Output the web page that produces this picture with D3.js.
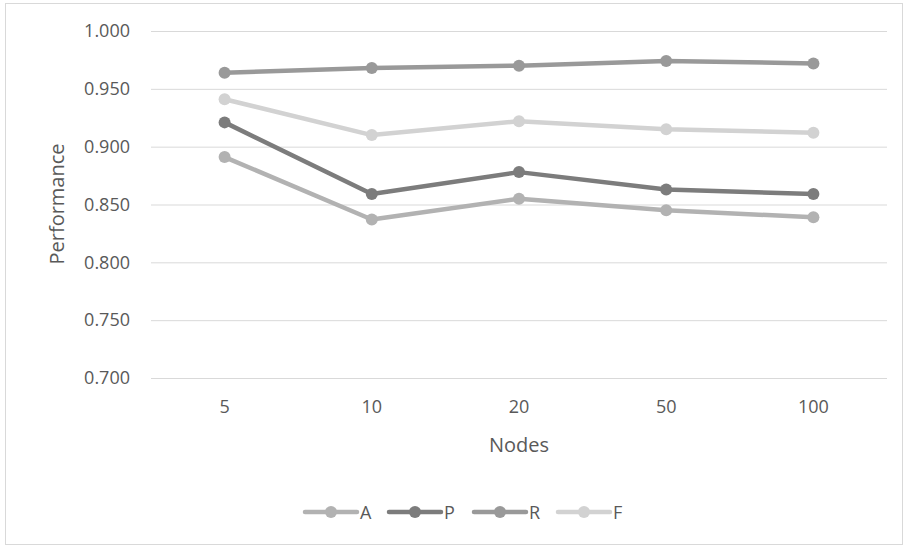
<!DOCTYPE html>
<html><head><meta charset="utf-8">
<script src="https://cdn.jsdelivr.net/npm/d3@7"></script>
<style>body{margin:0;background:#fff}svg{display:block}text{font-family:"Open Sans","Segoe UI",Calibri,sans-serif}</style>
</head><body><svg id="c" width="904" height="546"></svg>
<script>
const categories = ["5","10","20","50","100"];
const seriesNames = ["A","P","R","F"];
const A = [0.891,0.837,0.855,0.845,0.839];
const P = [0.921,0.859,0.878,0.863,0.859];
const R = [0.964,0.968,0.970,0.974,0.972];
const F = [0.941,0.910,0.922,0.915,0.912];
const yTicks = [0.700,0.750,0.800,0.850,0.900,0.950,1.000];
const colors = {A:"#b2b2b2",P:"#7c7c7c",R:"#999999",F:"#d2d2d2"};
const seriesData = {A,P,R,F};

const svg = d3.select("#c");
svg.append("rect").attr("x",5.5).attr("y",3.5).attr("width",897).attr("height",541)
  .attr("fill","#fff").attr("stroke","#d9d9d9");

const x = d3.scaleBand().domain(categories).range([151,887]);
const y = d3.scaleLinear().domain([0.7,1.0]).range([378,31]);

const yAxis = svg.append("g").attr("transform","translate(151,0)")
  .call(d3.axisLeft(y).tickValues(yTicks).tickFormat(d3.format(".3f")).tickSize(-736).tickPadding(21));
yAxis.select(".domain").remove();
yAxis.selectAll("line").attr("stroke","#d9d9d9").attr("stroke-width",1);
yAxis.selectAll("text").attr("fill","#595959").style("font-size","18px");

const xAxis = svg.append("g").attr("transform","translate(0,378)")
  .call(d3.axisBottom(x).tickSize(0).tickPadding(22));
xAxis.select(".domain").remove();
xAxis.selectAll("text").attr("fill","#595959").style("font-size","18px");

svg.append("text").attr("x",519).attr("y",452).attr("text-anchor","middle")
  .attr("fill","#595959").style("font-size","20px").text("Nodes");
svg.append("text").attr("transform","translate(64,204) rotate(-90)").attr("text-anchor","middle")
  .attr("fill","#595959").style("font-size","20px").text("Performance");

const line = d3.line().x((d,i)=>x(categories[i])+x.bandwidth()/2).y(d=>y(d));
seriesNames.forEach(name=>{
  const vals = seriesData[name];
  const g = svg.append("g");
  g.append("path").attr("d",line(vals)).attr("fill","none").attr("stroke",colors[name])
    .attr("stroke-width",4.5).attr("stroke-linejoin","round").attr("stroke-linecap","round");
  g.selectAll("circle").data(vals).enter().append("circle")
    .attr("cx",(d,i)=>x(categories[i])+x.bandwidth()/2).attr("cy",d=>y(d)).attr("r",6)
    .attr("fill",colors[name]);
});

const legX = [305,389,474,558];
seriesNames.forEach((name,i)=>{
  const g = svg.append("g").attr("transform",`translate(${legX[i]},512)`);
  g.append("line").attr("x1",0).attr("x2",52).attr("y1",0).attr("y2",0)
    .attr("stroke",colors[name]).attr("stroke-width",4.5).attr("stroke-linecap","round");
  g.append("circle").attr("cx",26).attr("cy",0).attr("r",6).attr("fill",colors[name]);
  g.append("text").attr("x",55).attr("y",6.5).attr("fill","#595959").style("font-size","18px").text(name);
});
</script></body></html>
